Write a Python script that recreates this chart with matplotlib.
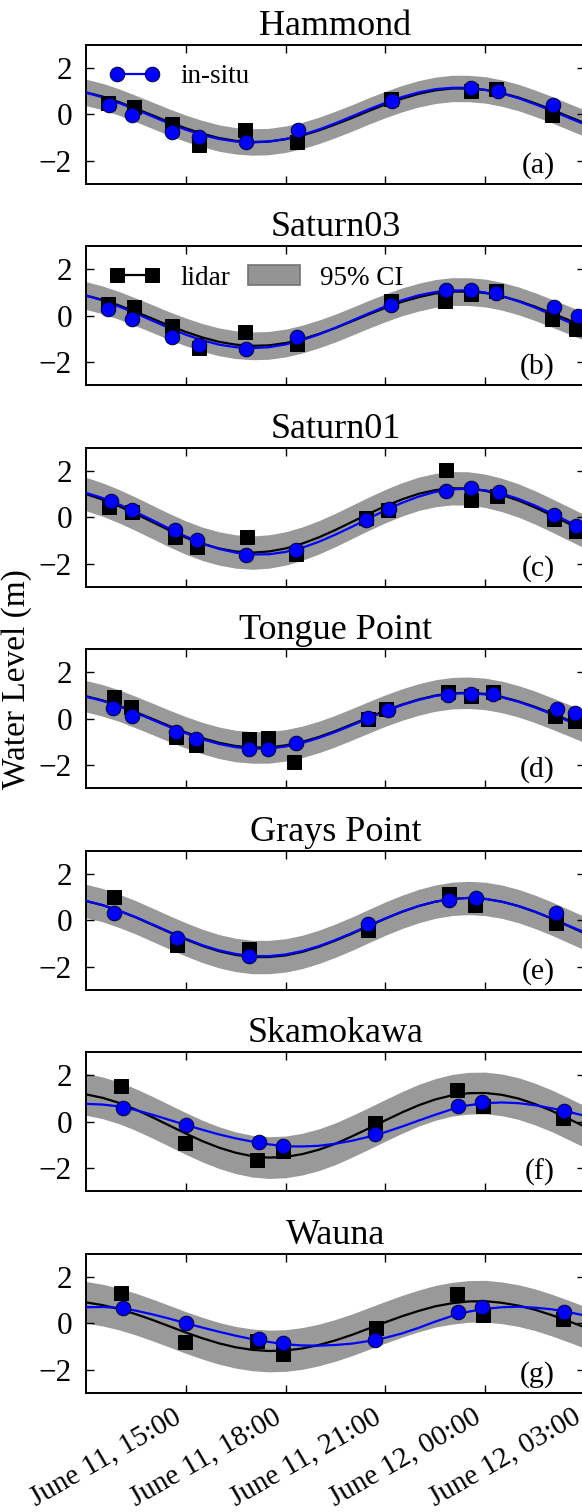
import datetime as dt
import matplotlib
matplotlib.use('Agg')
import matplotlib.pyplot as plt
import matplotlib.dates as mdates
from matplotlib.lines import Line2D
from matplotlib.patches import Patch

plt.rcParams['font.family'] = ['Liberation Serif', 'DejaVu Serif']
plt.rcParams['axes.unicode_minus'] = True

# ---------------- data (hours after June 11, 12:00) ----------------
stations = ['Hammond', 'Saturn03', 'Saturn01', 'Tongue Point', 'Grays Point', 'Skamokawa', 'Wauna']
panel_tags = ['(a)', '(b)', '(c)', '(d)', '(e)', '(f)', '(g)']

fit_hours = [0, 0.5, 1, 1.5, 2, 2.5, 3, 3.5, 4, 4.5, 5, 5.5, 6, 6.5, 7, 7.5,
             8, 8.5, 9, 9.5, 10, 10.5, 11, 11.5, 12, 12.5, 13, 13.5, 14, 14.5, 15]

# fitted curves read every half hour (in-situ = blue, lidar = black)
insitu_fit = [
    [0.93, 0.73, 0.48, 0.20, -0.10, -0.40, -0.67, -0.90, -1.07, -1.18, -1.22, -1.18, -1.07, -0.89, -0.66, -0.39,
     -0.09, 0.21, 0.49, 0.74, 0.94, 1.08, 1.14, 1.14, 1.05, 0.90, 0.69, 0.43, 0.15, -0.15, -0.44],
    [0.87, 0.66, 0.39, 0.10, -0.22, -0.53, -0.82, -1.06, -1.25, -1.36, -1.40, -1.36, -1.24, -1.05, -0.81, -0.52,
     -0.21, 0.10, 0.40, 0.67, 0.88, 1.02, 1.09, 1.09, 1.00, 0.84, 0.62, 0.35, 0.04, -0.27, -0.58],
    [1.05, 0.83, 0.55, 0.22, -0.13, -0.49, -0.83, -1.13, -1.37, -1.53, -1.61, -1.60, -1.50, -1.32, -1.06, -0.75,
     -0.41, -0.05, 0.30, 0.62, 0.89, 1.09, 1.20, 1.23, 1.16, 1.02, 0.79, 0.50, 0.16, -0.19, -0.55],
    [0.95, 0.77, 0.53, 0.25, -0.05, -0.35, -0.63, -0.89, -1.09, -1.23, -1.29, -1.29, -1.20, -1.05, -0.83, -0.57,
     -0.28, 0.02, 0.32, 0.59, 0.81, 0.98, 1.08, 1.10, 1.05, 0.92, 0.73, 0.48, 0.20, -0.10, -0.40],
    [0.83, 0.65, 0.41, 0.13, -0.18, -0.50, -0.80, -1.08, -1.30, -1.46, -1.55, -1.55, -1.48, -1.33, -1.12, -0.85,
     -0.55, -0.23, 0.08, 0.37, 0.61, 0.80, 0.92, 0.96, 0.92, 0.80, 0.61, 0.37, 0.08, -0.23, -0.53],
    [0.77, 0.74, 0.66, 0.50, 0.30, 0.08, -0.14, -0.35, -0.55, -0.72, -0.86, -0.98, -1.06, -1.07, -1.04, -0.95,
     -0.82, -0.65, -0.45, -0.21, 0.05, 0.30, 0.54, 0.71, 0.80, 0.83, 0.80, 0.71, 0.58, 0.43, 0.25],
    [0.69, 0.70, 0.66, 0.54, 0.38, 0.20, 0.00, -0.19, -0.37, -0.54, -0.69, -0.81, -0.91, -0.96, -0.97, -0.94,
     -0.88, -0.77, -0.63, -0.44, -0.20, 0.07, 0.31, 0.50, 0.62, 0.69, 0.71, 0.67, 0.60, 0.48, 0.33],
]
lidar_fit = [
    [0.94, 0.76, 0.52, 0.24, -0.05, -0.34, -0.61, -0.84, -1.03, -1.15, -1.20, -1.18, -1.08, -0.92, -0.70, -0.44,
     -0.16, 0.14, 0.42, 0.67, 0.88, 1.03, 1.11, 1.11, 1.05, 0.91, 0.72, 0.47, 0.20, -0.10, -0.39],
    [0.87, 0.68, 0.44, 0.16, -0.13, -0.43, -0.70, -0.94, -1.13, -1.25, -1.30, -1.28, -1.18, -1.01, -0.79, -0.53,
     -0.24, 0.06, 0.34, 0.60, 0.80, 0.96, 1.04, 1.04, 0.98, 0.84, 0.64, 0.39, 0.11, -0.18, -0.47],
    [1.00, 0.76, 0.47, 0.14, -0.21, -0.56, -0.88, -1.15, -1.35, -1.48, -1.53, -1.48, -1.35, -1.14, -0.87, -0.55,
     -0.20, 0.15, 0.48, 0.77, 1.01, 1.17, 1.25, 1.24, 1.14, 0.96, 0.72, 0.42, 0.08, -0.27, -0.62],
    [0.97, 0.79, 0.56, 0.28, -0.01, -0.31, -0.59, -0.84, -1.04, -1.18, -1.24, -1.24, -1.15, -1.00, -0.79, -0.53,
     -0.24, 0.06, 0.35, 0.61, 0.83, 1.00, 1.10, 1.12, 1.07, 0.94, 0.75, 0.51, 0.23, -0.06, -0.36],
    [0.83, 0.65, 0.40, 0.12, -0.20, -0.52, -0.83, -1.11, -1.34, -1.50, -1.59, -1.59, -1.52, -1.37, -1.15, -0.88,
     -0.58, -0.25, 0.07, 0.36, 0.61, 0.80, 0.92, 0.96, 0.92, 0.80, 0.61, 0.36, 0.07, -0.25, -0.57],
    [1.18, 1.03, 0.81, 0.52, 0.19, -0.16, -0.51, -0.84, -1.12, -1.34, -1.49, -1.55, -1.52, -1.40, -1.21, -0.95,
     -0.63, -0.29, 0.06, 0.40, 0.71, 0.96, 1.14, 1.23, 1.24, 1.16, 1.00, 0.76, 0.47, 0.13, -0.22],
    [0.90, 0.78, 0.61, 0.39, 0.14, -0.13, -0.40, -0.65, -0.87, -1.04, -1.15, -1.20, -1.18, -1.09, -0.94, -0.74,
     -0.50, -0.23, 0.04, 0.30, 0.53, 0.73, 0.86, 0.94, 0.95, 0.88, 0.76, 0.58, 0.35, 0.09, -0.18],
]
ci_half = [0.57, 0.60, 0.72, 0.68, 0.72, 0.90, 0.90]

lidar_t = [
    [0.67, 1.44, 2.59, 3.41, 4.78, 6.33, 9.17, 11.56, 12.33, 14.02],
    [0.67, 1.44, 2.59, 3.41, 4.78, 6.33, 9.17, 10.78, 11.56, 12.33, 14.02, 14.72],
    [0.70, 1.39, 2.67, 3.33, 4.83, 6.30, 8.41, 9.08, 10.83, 11.56, 12.36, 14.06, 14.72],
    [0.83, 1.36, 2.70, 3.30, 4.89, 5.47, 6.26, 8.47, 9.03, 10.89, 11.56, 12.24, 14.11, 14.69],
    [0.83, 2.74, 4.91, 8.47, 10.91, 11.69, 14.14],
    [1.06, 2.98, 5.14, 5.91, 8.70, 11.14, 11.92, 14.33],
    [1.06, 2.98, 5.14, 5.91, 8.72, 11.14, 11.92, 14.33],
]
lidar_v = [
    [0.47, 0.33, -0.43, -1.32, -0.70, -1.20, 0.64, 1.01, 1.07, -0.05],
    [0.51, 0.36, -0.43, -1.38, -0.70, -1.23, 0.65, 0.65, 0.94, 1.06, -0.14, -0.58],
    [0.46, 0.24, -0.86, -1.29, -0.86, -1.57, -0.03, 0.31, 2.03, 0.74, 0.93, -0.07, -0.60],
    [0.93, 0.50, -0.79, -1.14, -0.86, -0.83, -1.86, -0.03, 0.43, 1.17, 1.00, 1.17, 0.11, -0.11],
    [1.00, -1.09, -1.26, -0.43, 1.14, 0.67, -0.14],
    [1.54, -0.93, -1.64, -1.26, -0.07, 1.36, 0.67, 0.17],
    [1.31, -0.79, -0.76, -1.31, -0.21, 1.26, 0.36, 0.19],
]
insitu_t = [
    [0.69, 1.39, 2.59, 3.41, 4.80, 6.38, 9.20, 11.58, 12.38, 14.05],
    [0.67, 1.39, 2.59, 3.41, 4.81, 6.33, 9.17, 10.81, 11.56, 12.33, 14.06, 14.78],
    [0.76, 1.39, 2.67, 3.33, 4.81, 6.30, 8.41, 9.11, 10.81, 11.56, 12.41, 14.06, 14.72],
    [0.80, 1.39, 2.70, 3.30, 4.89, 5.47, 6.30, 8.47, 9.08, 10.89, 11.56, 12.24, 14.17, 14.69],
    [0.83, 2.74, 4.91, 8.47, 10.91, 11.72, 14.14],
    [1.11, 3.00, 5.19, 5.91, 8.70, 11.19, 11.89, 14.37],
    [1.11, 3.00, 5.19, 5.91, 8.70, 11.19, 11.89, 14.37],
]
insitu_v = [
    [0.40, -0.03, -0.75, -0.98, -1.18, -0.67, 0.59, 1.14, 1.00, 0.40],
    [0.29, -0.14, -0.91, -1.26, -1.45, -0.94, 0.48, 1.09, 1.13, 1.00, 0.36, 0.00],
    [0.71, 0.29, -0.57, -1.00, -1.64, -1.40, -0.14, 0.36, 1.14, 1.24, 1.07, 0.11, -0.36],
    [0.46, 0.11, -0.57, -0.86, -1.29, -1.29, -1.03, 0.03, 0.36, 1.03, 1.07, 1.07, 0.43, 0.24],
    [0.31, -0.76, -1.54, -0.16, 0.86, 0.96, 0.31],
    [0.61, -0.14, -0.89, -1.04, -0.54, 0.67, 0.83, 0.46],
    [0.64, 0.00, -0.69, -0.86, -0.74, 0.50, 0.71, 0.47],
]

y_ticks = [-2, 0, 2]
x_tick_hours = [3, 6, 9, 12, 15]

BASE = dt.datetime(2015, 6, 11, 12, 0)


def to_dt(hours):
    return [BASE + dt.timedelta(hours=h) for h in hours]


# ---------------- figure ----------------
W, H = 582, 1512
fig = plt.figure(figsize=(W / 100, H / 100), dpi=100)

ax_left = 86 / W
ax_width = 499 / W
ax_h_px = 139
top0 = 44.7
pitch = 201.5

blue_kw = dict(color='#0000ff', marker='o', ms=10.5, mfc='#0000ff', mec='#000033', mew=0.7)
black_kw = dict(color='k', marker='s', ms=10, mfc='k', mec='k', mew=0.7)

axes = []
for i, name in enumerate(stations):
    top_px = top0 + pitch * i
    bottom = 1 - (top_px + ax_h_px) / H
    ax = fig.add_axes([ax_left, bottom, ax_width, ax_h_px / H])
    axes.append(ax)

    ft = to_dt(fit_hours)
    lo = [v - ci_half[i] for v in lidar_fit[i]]
    hi = [v + ci_half[i] for v in lidar_fit[i]]
    ax.fill_between(ft, lo, hi, color='0.6', lw=0, zorder=1)
    ax.plot(ft, lidar_fit[i], color='k', lw=1.6, zorder=2)
    ax.plot(ft, insitu_fit[i], color='#0000ff', lw=1.6, zorder=3)
    ax.plot(to_dt(lidar_t[i]), lidar_v[i], ls='none', zorder=4, **black_kw)
    ax.plot(to_dt(insitu_t[i]), insitu_v[i], ls='none', zorder=5, **blue_kw)

    ax.set_xlim(BASE, BASE + dt.timedelta(hours=15))
    ax.set_ylim(-3, 3)
    ax.set_yticks(y_ticks)
    ax.set_xticks(to_dt(x_tick_hours))
    ax.xaxis.set_major_formatter(mdates.DateFormatter('%B %d, %H:%M'))
    ax.tick_params(direction='in', top=True, right=True, length=6, width=1)
    ax.tick_params(axis='y', labelsize=22.5, pad=10)
    ax.tick_params(axis='x', labelsize=21, pad=8)
    for sp in ax.spines.values():
        sp.set_linewidth(1.4)
    ax.set_title(name, fontsize=26, pad=7)
    ax.text(0.94, 0.08, panel_tags[i], transform=ax.transAxes, ha='right',
            va='baseline', fontsize=21.5)
    if i < len(stations) - 1:
        ax.tick_params(labelbottom=False)
    else:
        for lab in ax.get_xticklabels():
            lab.set_rotation(30)
            lab.set_ha('right')

# legends
h_insitu = Line2D([], [], lw=1.6, **blue_kw)
h_lidar = Line2D([], [], lw=1.6, **black_kw)
h_ci = Patch(facecolor='0.58', edgecolor='0.45', lw=1.2)

leg_kw = dict(loc='center left', frameon=False, numpoints=2, handlelength=1.9,
              handletextpad=0.75, borderpad=0, borderaxespad=0, fontsize=19.5,
              handleheight=0.75)
axes[0].legend([h_insitu], ['in-situ'], bbox_to_anchor=((109 - 86) / 499, 0.77), **leg_kw)
axes[1].legend([h_lidar, h_ci], ['lidar', '95% CI'], ncol=2, columnspacing=0.65,
               bbox_to_anchor=((109 - 86) / 499, 0.77), **leg_kw)

fig.text(17 / W, 1 - 679 / H, 'Water Level (m)', rotation=90, ha='center',
         va='center', fontsize=24)

fig.savefig('out.png', dpi=100)
